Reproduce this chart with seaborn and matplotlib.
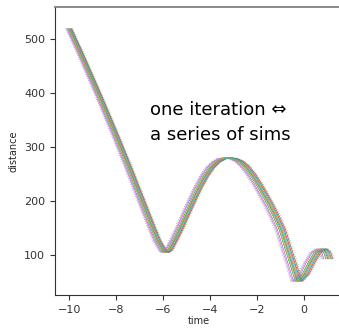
import matplotlib
matplotlib.use("Agg")
import matplotlib.pyplot as plt
import seaborn as sns
import pandas as pd

# base trajectory
base_time = [-10.0, -9.75, -9.5, -9.25, -9.0, -8.75, -8.5, -8.25, -8.0, -7.75,
             -7.5, -7.25, -7.0, -6.75, -6.5, -6.25, -6.0, -5.9, -5.75, -5.5,
             -5.25, -5.0, -4.75, -4.5, -4.25, -4.0, -3.75, -3.5, -3.25, -3.0,
             -2.75, -2.5, -2.25, -2.0, -1.75, -1.5, -1.25, -1.0, -0.75, -0.5,
             -0.3, 0.0, 0.25, 0.5, 0.75, 0.9, 1.0]
base_dist = [520, 496, 472, 447, 422, 397, 371, 345, 319, 292,
             265, 237, 209, 181, 153, 126, 107, 104, 109, 130,
             153, 178, 202, 225, 245, 261, 272, 278, 280, 278,
             273, 263, 249, 232, 213, 193, 171, 147, 112, 78,
             50, 64, 86, 104, 111, 105, 92]

# time offsets of the individual sims (start of run, end of run)
sim_shift_start = [0.0, 0.04, -0.04, 0.08, -0.08, 0.11, -0.11, 0.02, -0.02, 0.06]
sim_shift_end = [0.0, 0.08, -0.08, 0.16, -0.16, 0.22, -0.22, 0.04, -0.04, 0.12]
sim_colors = sns.color_palette("tab10", 10)
env_shift_start = [-0.15, 0.15]
env_shift_end = [-0.28, 0.28]
envelope_colors = ["blue", "green"]

text_lines = ["one iteration \u21d4", "a series of sims"]


def shifted_time(s0, s1):
    t0, t1 = base_time[0], base_time[-1]
    return [t + s0 + (s1 - s0) * (t - t0) / (t1 - t0) for t in base_time]


sns.set_style("ticks")
plt.rcParams["font.family"] = ["DejaVu Sans"]

fig = plt.figure(figsize=(3.39, 3.29), dpi=100)
ax = fig.add_axes([55 / 339, 34 / 329, 288 / 339, 288 / 329])

for s0, s1, c in zip(env_shift_start, env_shift_end, envelope_colors):
    sns.lineplot(x=shifted_time(s0, s1), y=base_dist, color=c,
                 linewidth=0.6, alpha=0.45, sort=False, estimator=None, ax=ax)
    ax.lines[-1].set_linestyle((0, (1, 1.5)))
for s0, s1, c in zip(sim_shift_start, sim_shift_end, sim_colors):
    sns.lineplot(x=shifted_time(s0, s1), y=base_dist, color=c,
                 linewidth=0.55, alpha=0.9, sort=False, estimator=None, ax=ax)

ax.set_xlim(-10.6, 1.65)
ax.set_ylim(25, 560)
ax.set_xticks([-10, -8, -6, -4, -2, 0])
ax.set_yticks([100, 200, 300, 400, 500])
ax.set_xticklabels(["\u221210", "\u22128", "\u22126", "\u22124", "\u22122", "0"])
ax.tick_params(labelsize=8, length=3.5, width=0.8, colors="#333333")
ax.set_xlabel("time", fontsize=7, labelpad=1)
ax.set_ylabel("distance", fontsize=7, labelpad=4)
for side in ["left", "bottom"]:
    ax.spines[side].set_linewidth(0.8)
    ax.spines[side].set_color("#333333")
ax.spines["top"].set_color("#808080")
ax.spines["top"].set_linewidth(1.3)
ax.spines["right"].set_visible(False)

fig.text(150 / 339, 1 - 115 / 329, text_lines[0], fontsize=13,
         ha="left", va="baseline", color="black")
fig.text(150 / 339, 1 - 140 / 329, text_lines[1], fontsize=13,
         ha="left", va="baseline", color="black")

fig.savefig("out.png", dpi=100)
